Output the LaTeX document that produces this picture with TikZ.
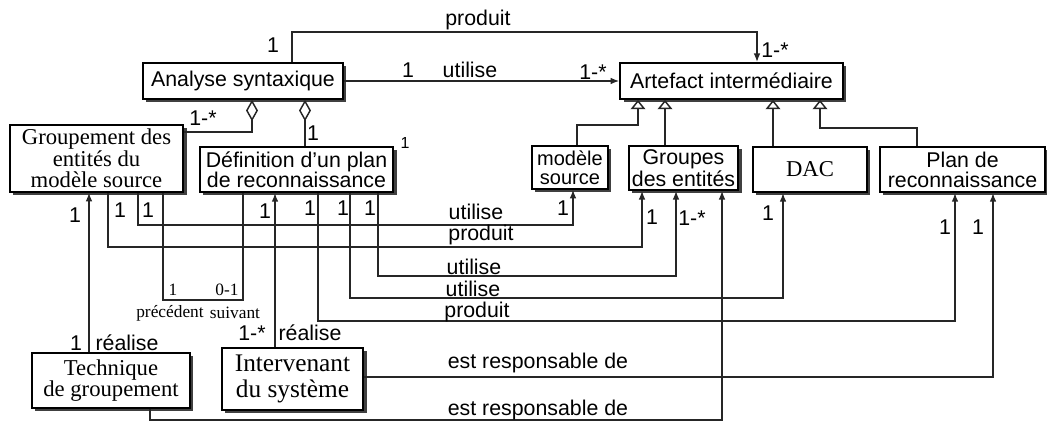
\documentclass[tikz,border=0pt]{standalone}
\usepackage{fontspec}
\setmainfont{Liberation Serif}
\setsansfont{Liberation Sans}
\usetikzlibrary{arrows.meta, shadows}

\begin{document}
\begin{tikzpicture}[x=0.75pt, y=-0.75pt, font=\sffamily\fontsize{16}{15}\selectfont,
    cls/.style={draw, line width=1.3pt, fill=white, align=center, inner sep=1pt, drop shadow={shadow xshift=2.5pt, shadow yshift=-2.5pt, fill=black!75, opacity=1}},
    rm/.style={font=\rmfamily\fontsize{17}{16}\selectfont},
    lbl/.style={inner sep=0pt},
    num/.style={inner sep=0pt, font=\sffamily\fontsize{16}{16}\selectfont},
    small/.style={inner sep=0pt, font=\rmfamily\fontsize{13}{13}\selectfont},
    link/.style={draw=black!85, line width=1.1pt},
    arr/.style={link, -{Latex[length=6.5pt, width=5pt]}},
    gen/.style={link, -{Triangle[open, length=7pt, width=11pt]}},
    agg/.style={link, {Diamond[open, length=16pt, width=9pt]}-}]
    \useasboundingbox (0,0) rectangle (1047,423);

    % classes
    \node[cls, minimum width=150pt, minimum height=27pt] (ana) at (243,81) {Analyse syntaxique};
    \node[cls, minimum width=167pt, minimum height=27pt] (art) at (731.5,81) {Artefact intermédiaire};
    \node[cls, rm, minimum width=130pt, minimum height=50pt] (grp) at (96.5,158.5) {Groupement des\\entités du\\modèle source};
    \node[cls, minimum width=145pt, minimum height=34pt] (def) at (296.5,169.5) {Définition d'un plan\\de reconnaissance};
    \node[cls, font=\sffamily\fontsize{15}{14}\selectfont, minimum width=57pt, minimum height=32pt] (ms) at (570,167.5) {modèle\\source};
    \node[cls, minimum width=82pt, minimum height=33pt] (ge) at (683.5,168) {Groupes\\des entités};
    \node[cls, rm, minimum width=85.5pt, minimum height=34pt] (dac) at (810,169.5) {DAC};
    \node[cls, minimum width=124pt, minimum height=34pt] (plan) at (962.5,169.5) {Plan de\\reconnaissance};
    \node[cls, rm, minimum width=118.5pt, minimum height=41pt] (tech) at (111,380.5) {Technique\\de groupement};
    \node[cls, font=\rmfamily\fontsize{19}{19.5}\selectfont, minimum width=106pt, minimum height=46.5pt] (int) at (292.5,379) {Intervenant\\du système};

    % associations
    \draw[arr] (ana.north -| 292,0) -- (292,32) -| (art.north -| 757,0);
    \draw[arr] (ana.east) -- (art.west);
    \draw[agg] (ana.south -| 252,0) |- (grp.east |- 0,132);
    \draw[agg] (ana.south -| 305,0) -- (def.north -| 305,0);

    % heritage
    \draw[gen] (ms.north -| 577,0) |- (638,125) -- (art.south -| 638,0);
    \draw[gen] (ge.north -| 665,0) -- (art.south -| 665,0);
    \draw[gen] (dac.north -| 773,0) -- (art.south -| 773,0);
    \draw[gen] (plan.north -| 917,0) |- (820,128) -- (art.south -| 820,0);

    % realise
    \draw[arr] (tech.north -| 89,0) -- (grp.south -| 89,0);
    \draw[arr] (int.north -| 275,0) -- (def.south -| 275,0);

    % liens vers les artefacts
    \draw[arr] (grp.south -| 108,0) -- (108,247) -| (ge.south -| 642,0);
    \draw[arr] (grp.south -| 138,0) -- (138,225) -| (ms.south -| 573,0);
    \draw[link] (grp.south -| 163,0) -- (163,300) -| (def.south -| 243,0);
    \draw[arr] (def.south -| 318,0) -- (318,321) -| (plan.south -| 955,0);
    \draw[arr] (def.south -| 350,0) -- (350,298) -| (dac.south -| 783,0);
    \draw[arr] (def.south -| 378,0) -- (378,276) -| (ge.south -| 676,0);
    \draw[arr] (int.east |- 0,377) -| (plan.south -| 993,0);
    \draw[arr] (tech.south -| 150,0) -- (150,420) -| (ge.south -| 722,0);

    % textes
    \node[lbl] (t1) at (478,20) {produit};
    \node[lbl] (t2) at (470,70) {utilise};
    \node[lbl] (t3) at (476,212) {utilise};
    \node[lbl] (t4) at (481,235) {produit};
    \node[lbl] (t5) at (474,267) {utilise};
    \node[lbl] (t6) at (473,289) {utilise};
    \node[lbl] (t7) at (477,312) {produit};
    \node[lbl] (t8) at (538,363) {est responsable de};
    \node[lbl] (t9) at (538,410) {est responsable de};
    \node[lbl] (t10) at (127,343) {réalise};
    \node[lbl] (t11) at (310,333) {réalise};
    \node[small] (t12) at (170,313) {précédent};
    \node[small] (t13) at (235,313) {suivant};

    % multiplicites
    \node[num] (m1) at (273,45) {1};
    \node[num] (m2) at (775,50) {1-*};
    \node[num] (m3) at (408,70) {1};
    \node[num] (m4) at (593,72) {1-*};
    \node[num] (m5) at (203,118) {1-*};
    \node[num] (m6) at (313,133) {1};
    \node[num, font=\sffamily\fontsize{12}{12}\selectfont] (m7) at (405,143) {1};
    \node[num] (m8) at (75,215) {1};
    \node[num] (m9) at (120,210) {1};
    \node[num] (m10) at (148,210) {1};
    \node[num] (m11) at (265,211) {1};
    \node[num] (m12) at (310,208) {1};
    \node[num] (m13) at (343,208) {1};
    \node[num] (m14) at (370,208) {1};
    \node[small] (m15) at (173,290) {1};
    \node[small] (m16) at (227,290) {0-1};
    \node[num] (m17) at (76,343) {1};
    \node[num] (m18) at (252,333) {1-*};
    \node[num] (m19) at (563,208) {1};
    \node[num] (m20) at (652,217) {1};
    \node[num] (m21) at (692,218) {1-*};
    \node[num] (m22) at (768,213) {1};
    \node[num] (m23) at (945,227) {1};
    \node[num] (m24) at (978,227) {1};
\end{tikzpicture}
\end{document}
